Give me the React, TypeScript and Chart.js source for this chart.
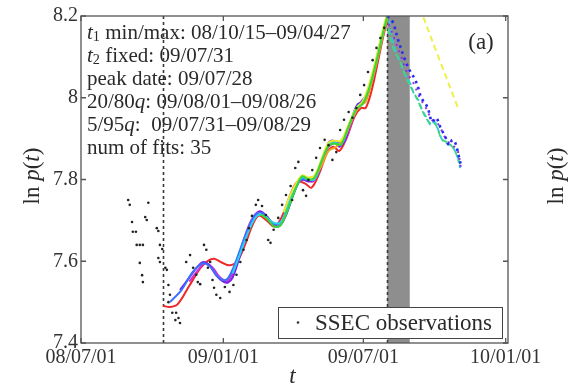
import React, { useEffect, useRef } from 'react';
import { Chart, registerables } from 'chart.js';
Chart.register(...registerables);

// ---- axes (days since 08/07/01) ----
const xTickDays = [0, 184, 365, 549];
const xTickLabels = ['08/07/01', '09/01/01', '09/07/01', '10/01/01'];
const yTickValues = [7.4, 7.6, 7.8, 8.0, 8.2];
const yTickLabels = ['7.4', '7.6', '7.8', '8', '8.2'];
const xMin = 0, xMax = 552, yMin = 7.4, yMax = 8.2;

const t1MinDay = 106;        // 08/10/15
const t2Day = 396;           // 09/07/31
const bandDays = [396, 425]; // 5/95 quantile

const infoLines = [
  [{ t: 't', i: true }, { t: '1', sub: true }, { t: ' min/max: 08/10/15–09/04/27' }],
  [{ t: 't', i: true }, { t: '2', sub: true }, { t: ' fixed: 09/07/31' }],
  [{ t: 'peak date: 09/07/28' }],
  [{ t: '20/80' }, { t: 'q', i: true }, { t: ': 09/08/01–09/08/26' }],
  [{ t: '5/95' }, { t: 'q', i: true }, { t: ':  09/07/31–09/08/29' }],
  [{ t: 'num of fits: 35' }],
];
const panelTag = '(a)';
const legendLabel = 'SSEC observations';

// ---- SSEC observations ----
const obsDays = [61, 63, 87, 66, 83, 85, 67, 71, 72, 76, 80, 98, 100, 102, 105, 100, 102, 76, 79, 80,
  109, 111, 113, 115, 118, 123, 126, 128, 122, 113,
  136, 141, 145, 149, 151, 154, 159, 162, 164, 170, 172, 175, 180, 167, 186, 192, 197, 201, 206, 210,
  214, 217, 221, 226, 229, 234, 239, 242, 245, 249, 255, 260, 265, 271, 273, 277, 281, 287, 291, 294,
  299, 304, 309, 315, 320, 325, 330, 335, 340, 346, 351, 356, 361, 366, 371, 377, 382, 387, 392];
const obsVals = [7.750, 7.738, 7.743, 7.696, 7.708, 7.701, 7.672, 7.672, 7.640, 7.640, 7.640, 7.681, 7.674, 7.640, 7.630, 7.608, 7.598, 7.596, 7.566, 7.549,
  7.584, 7.579, 7.542, 7.518, 7.474, 7.474, 7.461, 7.449, 7.456, 7.500,
  7.598, 7.615, 7.584, 7.567, 7.549, 7.544, 7.640, 7.628, 7.584, 7.554, 7.535, 7.518, 7.510, 7.598, 7.537, 7.525, 7.542, 7.567, 7.598, 7.628,
  7.652, 7.681, 7.711, 7.738, 7.750, 7.735, 7.713, 7.652, 7.645, 7.677, 7.706, 7.738, 7.762, 7.784, 7.750, 7.828, 7.843, 7.774, 7.760, 7.799,
  7.823, 7.853, 7.877, 7.897, 7.884, 7.848, 7.867, 7.921, 7.946, 7.965, 7.951, 7.975, 8.007, 8.031, 8.063, 8.092, 8.122, 8.146, 8.171];

// ---- fitted curves ----
const redDays = [106, 115, 125, 140, 155, 165, 172, 182, 192, 202, 212, 222, 230, 240, 250, 260, 270, 280, 290, 298, 308, 318, 326, 334, 344, 354, 362, 368, 376, 384, 392, 398];
const redVals = [7.491, 7.488, 7.495, 7.54, 7.585, 7.602, 7.606, 7.597, 7.59, 7.60, 7.64, 7.69, 7.712, 7.70, 7.685, 7.71, 7.76, 7.795, 7.79, 7.78, 7.815, 7.865, 7.88, 7.87, 7.905, 7.955, 7.975, 7.975, 8.02, 8.09, 8.16, 8.2];
const magentaDays = [140, 150, 160, 170, 180, 190, 200, 210, 220, 230, 240, 250, 260, 270, 280, 290, 300, 310, 320, 330, 340, 350, 360, 370, 380, 390, 396];
const magentaVals = [7.55, 7.575, 7.595, 7.585, 7.56, 7.552, 7.59, 7.65, 7.70, 7.722, 7.71, 7.69, 7.70, 7.75, 7.795, 7.80, 7.795, 7.83, 7.88, 7.89, 7.89, 7.94, 7.985, 8.01, 8.075, 8.15, 8.2];
const purpleDays = [128, 140, 150, 158, 166, 175, 184, 190, 196, 205, 215, 225, 232, 240, 248, 255, 262, 272, 280, 286, 294, 302, 312, 320, 326, 334, 342, 352, 358, 366, 374, 384, 392, 398];
const purpleVals = [7.53, 7.56, 7.585, 7.598, 7.59, 7.565, 7.55, 7.548, 7.56, 7.61, 7.67, 7.71, 7.722, 7.71, 7.69, 7.685, 7.70, 7.75, 7.79, 7.80, 7.795, 7.80, 7.84, 7.89, 7.895, 7.88, 7.90, 7.96, 7.985, 7.99, 8.03, 8.11, 8.17, 8.2];
const blueDays = [115, 130, 145, 158, 168, 178, 188, 196, 206, 216, 226, 234, 244, 254, 264, 274, 284, 292, 300, 310, 320, 330, 338, 348, 358, 366, 376, 386, 394, 398];
const blueVals = [7.50, 7.53, 7.575, 7.595, 7.585, 7.56, 7.555, 7.58, 7.63, 7.68, 7.715, 7.718, 7.70, 7.69, 7.71, 7.76, 7.80, 7.80, 7.80, 7.84, 7.885, 7.89, 7.89, 7.94, 7.98, 7.99, 8.04, 8.12, 8.18, 8.2];
const cyanDays = [196, 206, 218, 228, 238, 248, 258, 268, 278, 286, 294, 302, 312, 320, 328, 336, 346, 356, 364, 372, 382, 390, 397];
const cyanVals = [7.57, 7.62, 7.68, 7.712, 7.71, 7.695, 7.695, 7.74, 7.785, 7.805, 7.80, 7.80, 7.845, 7.885, 7.89, 7.885, 7.93, 7.975, 7.99, 8.025, 8.095, 8.16, 8.2];
const greenDays = [232, 240, 250, 258, 268, 278, 286, 294, 302, 312, 320, 328, 336, 346, 356, 364, 372, 382, 390, 396];
const greenVals = [7.715, 7.705, 7.685, 7.688, 7.73, 7.78, 7.808, 7.80, 7.805, 7.85, 7.882, 7.888, 7.885, 7.93, 7.972, 7.985, 8.02, 8.09, 8.155, 8.2];
const yellowDays = [262, 270, 278, 286, 294, 302, 312, 320, 328, 336, 346, 356, 364, 372, 382, 390, 395];
const yellowVals = [7.72, 7.76, 7.79, 7.81, 7.805, 7.81, 7.855, 7.89, 7.895, 7.895, 7.935, 7.975, 7.99, 8.03, 8.10, 8.165, 8.2];
const orangeDays = [300, 310, 320, 330, 340, 350, 360, 368, 376, 384, 392, 397];
const orangeVals = [7.80, 7.83, 7.87, 7.88, 7.90, 7.945, 7.98, 7.99, 8.04, 8.10, 8.165, 8.2];

// ---- after the peak ----
const postBlueDays = [396, 403, 410, 419, 426, 431, 436, 440, 445, 449, 454, 459, 465, 471, 476, 480, 484, 488, 491];
const postBlueVals = [8.2, 8.185, 8.141, 8.092, 8.063, 8.048, 8.024, 7.999, 7.987, 7.970, 7.941, 7.951, 7.926, 7.904, 7.884, 7.897, 7.889, 7.860, 7.836];
const postPurpleDays = [398, 406, 414, 422, 430, 438, 446, 454, 462, 470, 478, 486, 491];
const postPurpleVals = [8.18, 8.14, 8.10, 8.06, 8.035, 8.0, 7.975, 7.945, 7.935, 7.905, 7.885, 7.875, 7.83];
const postCyanDays = [398, 406, 413, 419, 426, 431, 436, 441, 447, 452, 457, 462, 467, 472, 478, 483, 488, 490];
const postCyanVals = [8.19, 8.117, 8.087, 8.056, 8.034, 8.007, 7.995, 7.970, 7.951, 7.933, 7.941, 7.921, 7.897, 7.889, 7.884, 7.872, 7.848, 7.828];
const postGreenDays = [397, 404, 412, 420, 428, 435, 442, 450, 458, 466, 474, 482, 489];
const postGreenVals = [8.17, 8.12, 8.09, 8.05, 8.02, 7.995, 7.965, 7.94, 7.935, 7.90, 7.89, 7.875, 7.84];
const postYellowDays = [438, 462, 487];
const postYellowVals = [8.22, 8.10, 7.977];

const xy = (d: number[], v: number[]) => d.map((x, i) => ({ x, y: v[i] }));
const SERIF = '"Liberation Serif", "Times New Roman", serif';

function line(data: any, color: string, width = 2, dash: number[] = []) {
  return { data, showLine: true, borderColor: color, borderWidth: width, borderDash: dash, pointRadius: 0, fill: false, tension: 0.35 };
}

function drawRich(ctx: CanvasRenderingContext2D, x: number, y: number, segs: any[], size: number) {
  let cx = x;
  for (const s of segs) {
    const sz = s.sub ? size * 0.68 : size;
    ctx.font = `${s.i ? 'italic ' : ''}${sz}px ${SERIF}`;
    ctx.fillText(s.t, cx, y + (s.sub ? size * 0.22 : 0));
    cx += ctx.measureText(s.t).width;
  }
}

function drawYLabel(ctx: CanvasRenderingContext2D, cx: number, cy: number) {
  const segs = [{ t: 'ln ' }, { t: 'p', i: true }, { t: '(' }, { t: 't', i: true }, { t: ')' }];
  ctx.save();
  ctx.translate(cx, cy);
  ctx.rotate(-Math.PI / 2);
  let w = 0;
  for (const s of segs) { ctx.font = `${s.i ? 'italic ' : ''}23px ${SERIF}`; w += ctx.measureText(s.t).width; }
  ctx.textBaseline = 'middle';
  ctx.textAlign = 'left';
  drawRich(ctx, -w / 2, 0, segs, 23);
  ctx.restore();
}

const overlay = {
  id: 'overlay',
  beforeDatasetsDraw(chart: any) {
    const { ctx, chartArea: a, scales: { x } } = chart;
    ctx.save();
    const b0 = x.getPixelForValue(bandDays[0]), b1 = x.getPixelForValue(bandDays[1]);
    ctx.fillStyle = '#8e8e8e';
    ctx.fillRect(b0, a.top, b1 - b0, a.bottom - a.top);
    ctx.strokeStyle = '#3a3a3a';
    ctx.lineWidth = 1.6;
    ctx.setLineDash([3, 3]);
    for (const d of [t1MinDay, t2Day]) {
      const px = Math.round(x.getPixelForValue(d)) + 0.5;
      ctx.beginPath(); ctx.moveTo(px, a.top); ctx.lineTo(px, a.bottom); ctx.stroke();
    }
    ctx.restore();
  },
  afterDatasetsDraw(chart: any) {
    const { ctx, chartArea: a, scales: { x, y } } = chart;
    ctx.save();
    ctx.fillStyle = '#2a2a2a';
    ctx.textBaseline = 'middle';
    ctx.textAlign = 'left';
    infoLines.forEach((segs, i) => drawRich(ctx, a.left + 6, a.top + 17 + i * 23, segs, 21));

    ctx.font = `23px ${SERIF}`;
    ctx.textAlign = 'center';
    ctx.fillText(panelTag, a.right - 27, a.top + 27);

    // legend
    const lx0 = a.right - 230, lx1 = a.right - 6, ly0 = a.bottom - 36, ly1 = a.bottom - 5;
    ctx.fillStyle = '#ffffff';
    ctx.fillRect(lx0, ly0, lx1 - lx0, ly1 - ly0);
    ctx.strokeStyle = '#444';
    ctx.lineWidth = 1;
    ctx.strokeRect(lx0 + 0.5, ly0 + 0.5, lx1 - lx0, ly1 - ly0);
    ctx.fillStyle = '#333';
    ctx.beginPath(); ctx.arc(lx0 + 20, (ly0 + ly1) / 2, 1.3, 0, Math.PI * 2); ctx.fill();
    ctx.fillStyle = '#2a2a2a';
    ctx.textAlign = 'left';
    ctx.font = `23px ${SERIF}`;
    ctx.fillText(legendLabel, lx0 + 37, (ly0 + ly1) / 2 + 1);

    // frame and inward ticks
    ctx.strokeStyle = '#555';
    ctx.lineWidth = 1.3;
    ctx.strokeRect(a.left, a.top, a.right - a.left, a.bottom - a.top);
    ctx.beginPath();
    for (const v of xTickDays) {
      const px = x.getPixelForValue(v);
      ctx.moveTo(px, a.bottom); ctx.lineTo(px, a.bottom - 5);
      ctx.moveTo(px, a.top); ctx.lineTo(px, a.top + 5);
    }
    for (const v of yTickValues) {
      const py = y.getPixelForValue(v);
      ctx.moveTo(a.left, py); ctx.lineTo(a.left + 5, py);
      ctx.moveTo(a.right, py); ctx.lineTo(a.right - 5, py);
    }
    ctx.stroke();

    // axis titles
    ctx.fillStyle = '#2a2a2a';
    ctx.textAlign = 'center';
    ctx.textBaseline = 'middle';
    ctx.font = `italic 23px ${SERIF}`;
    ctx.fillText('t', (a.left + a.right) / 2 - 2, 377);
    drawYLabel(ctx, 33, 176);
    drawYLabel(ctx, 557, 176);
    ctx.restore();
  },
};

export default function App() {
  const ref = useRef<HTMLCanvasElement>(null);
  useEffect(() => {
    if (!ref.current) return;
    const chart = new Chart(ref.current, {
      type: 'scatter',
      data: {
        datasets: [
          { data: xy(obsDays, obsVals), pointRadius: 1.3, pointBackgroundColor: '#222', pointBorderWidth: 0, showLine: false },
          line(xy(postYellowDays, postYellowVals), '#eef04a', 2, [6, 4]),
          line(xy(postBlueDays, postBlueVals), '#2a2af0', 2.6, [2.5, 4]),
          line(xy(postPurpleDays, postPurpleVals), '#9a30e0', 2, [2, 5]),
          line(xy(postGreenDays, postGreenVals), '#40d880', 1.8, [6, 3]),
          line(xy(postCyanDays, postCyanVals), '#30c8e0', 1.8, [6, 3]),
          line(xy(greenDays, greenVals), '#38d838'),
          line(xy(yellowDays, yellowVals), '#e6ea30'),
          line(xy(orangeDays, orangeVals), '#f0a020'),
          line(xy(cyanDays, cyanVals), '#26d4ee'),
          line(xy(blueDays, blueVals), '#3a70ff'),
          line(xy(purpleDays, purpleVals), '#7a20e8'),
          line(xy(magentaDays, magentaVals), '#d030d8'),
          line(xy(redDays, redVals), '#f02828'),
        ],
      },
      options: {
        responsive: false,
        maintainAspectRatio: false,
        animation: false,
        layout: { padding: { left: 0, right: 67, top: 16, bottom: 0 } },
        plugins: { legend: { display: false }, tooltip: { enabled: false } },
        scales: {
          x: {
            type: 'linear', min: xMin, max: xMax,
            afterBuildTicks: (s: any) => { s.ticks = xTickDays.map(v => ({ value: v })); },
            afterFit: (s: any) => { s.height = 44; },
            grid: { display: false, drawTicks: false },
            border: { display: false },
            ticks: {
              autoSkip: false, maxRotation: 0, padding: 3, color: '#333',
              font: { family: SERIF, size: 20 },
              callback: (v: any) => xTickLabels[xTickDays.indexOf(Number(v))] ?? '',
            },
          },
          y: {
            type: 'linear', min: yMin, max: yMax,
            afterBuildTicks: (s: any) => { s.ticks = yTickValues.map(v => ({ value: v })); },
            afterFit: (s: any) => { s.width = 81; },
            grid: { display: false, drawTicks: false },
            border: { display: false },
            ticks: {
              padding: 3, color: '#333',
              font: { family: SERIF, size: 20 },
              callback: (v: any) => {
                const i = yTickValues.findIndex(t => Math.abs(t - Number(v)) < 1e-6);
                return i >= 0 ? yTickLabels[i] : '';
              },
            },
          },
        },
      },
      plugins: [overlay],
    } as any);
    return () => chart.destroy();
  }, []);
  return (
    <div style={{ position: 'absolute', left: 0, top: 0, width: 575, height: 387, background: '#fff' }}>
      <canvas ref={ref} width={575} height={387} style={{ display: 'block' }} />
    </div>
  );
}
